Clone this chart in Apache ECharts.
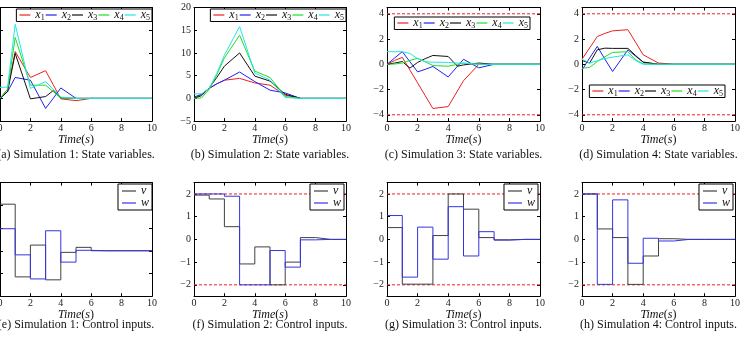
<!DOCTYPE html>
<html>
<head>
<meta charset="utf-8">
<script src="https://cdn.jsdelivr.net/npm/echarts@6/dist/echarts.min.js"></script>
<style>
  html, body { margin: 0; padding: 0; background: #fff; }
  #chart { width: 741px; height: 337px; }
</style>
</head>
<body>
<div id="chart"></div>
<script>
// ---- data ----
const xTicks = [0, 2, 4, 6, 8, 10];
const yTicksState = [-5, 0, 5, 10, 15, 20];
const yTicksBounded = [-4, -2, 0, 2, 4];
const yTicksInputE = [-2, -1, 0, 1, 2, 3];
const yTicksInput = [-2, -1, 0, 1, 2];
const stateBound = 4;
const inputBound = 2;

const stateNames = ['x1', 'x2', 'x3', 'x4', 'x5'];
const inputNames = ['v', 'w'];

const captions = [
  '(a) Simulation 1: State variables.',
  '(b) Simulation 2: State variables.',
  '(c) Simulation 3: State variables.',
  '(d) Simulation 4: State variables.',
  '(e) Simulation 1: Control inputs.',
  '(f) Simulation 2: Control inputs.',
  '(g) Simulation 3: Control inputs.',
  '(h) Simulation 4: Control inputs.'
];

// simulation 1 states
const timeA = [0, 0.5, 1, 2, 3, 3.5, 4, 5, 6, 10];
const a_x1 = [0, 2.0, 10.3, 4.6, 6.1, 3.0, -0.1, -0.5, 0, 0];
const a_x2 = [0, 1.5, 4.6, 4.0, -2.2, 0.0, 2.3, 0, 0, 0];
const a_x3 = [0, 1.5, 9.9, -0.1, 0.4, 1.7, 0.1, 0, 0, 0];
const a_x4 = [0, 2.0, 13.4, 2.9, 2.9, 1.5, 0.1, 0, 0, 0];
const a_x5 = [2.4, 2.5, 16.3, 2.2, 3.7, 2.0, 0.3, 0, 0, 0];

// simulation 2 states
const timeB = [0, 0.5, 1, 1.5, 2, 3, 4, 5, 6, 7, 10];
const b_x1 = [0, 0.9, 2.2, 3.2, 4.0, 4.4, 3.4, 2.9, 0.7, 0, 0];
const b_x2 = [0.3, 0.9, 2.2, 3.2, 4.0, 5.8, 3.7, 1.8, 1.2, 0, 0];
const b_x3 = [0, 0.6, 2.3, 4.6, 7.1, 10.0, 4.9, 3.8, 0.9, 0, 0];
const b_x4 = [0, 0.1, 2.0, 5.2, 8.9, 13.9, 6.0, 4.6, 0.4, 0, 0];
const b_x5 = [1.0, 1.0, 2.2, 5.5, 9.5, 15.8, 5.6, 4.0, 0.2, 0, 0];

// simulation 3 states
const timeC = [0, 0.5, 1, 1.5, 2, 2.5, 3, 4, 4.6, 5, 6, 7, 10];
const c_x1 = [0, 0.3, 0.55, -0.46, -1.47, -2.49, -3.5, -3.35, -2.12, -1.3, 0, 0, 0];
const c_x2 = [0, 0.5, 1.0, 0.2, -0.6, -0.4, -0.17, -1.0, -0.16, 0.4, -0.28, 0, 0];
const c_x3 = [0, 0.1, 0.22, -0.3, 0.15, 0.45, 0.7, 0.62, -0.15, -0.05, 0.1, 0, 0];
const c_x4 = [0, 0.02, 0.1, 0.3, 0.48, 0.2, -0.1, -0.15, 0.0, 0.1, 0, 0, 0];
const c_x5 = [1.0, 1.0, 1.0, 0.85, 0.45, 0.2, 0.17, 0.15, 0.1, 0.08, 0, 0, 0];

// simulation 4 states
const timeD = [0, 0.5, 1, 1.5, 2, 3, 3.5, 4, 5, 6, 10];
const d_x1 = [0.4, 1.3, 2.2, 2.45, 2.65, 2.74, 1.75, 0.75, 0.1, 0, 0];
const d_x2 = [-0.45, 0.5, 1.42, 0.4, -0.57, 1.15, 0.65, 0.17, 0, 0, 0];
const d_x3 = [0.3, 0.1, 1.15, 1.28, 1.26, 1.26, 0.7, 0.17, 0, 0, 0];
const d_x4 = [-0.3, -0.25, 0.22, 0.6, 0.94, 1.0, 0.35, 0.04, 0, 0, 0];
const d_x5 = [0.4, 0.1, 0.28, 0.45, 0.57, 0.75, 0.3, 0.0, 0, 0, 0];

// control inputs, held constant over each second
const stepTime = [0, 1, 2, 3, 4, 5, 6, 7, 8, 9, 10];
const e_v = [2.05, -1.15, 0.25, -1.28, -0.07, 0.15, 0, 0, 0, 0, 0];
const e_w = [0.97, -0.18, -1.24, 0.88, -0.5, 0.02, 0, 0, 0, 0, 0];
const f_v = [1.95, 1.78, 0.56, -1.08, -0.33, -2.0, -1.0, 0.08, 0, 0, 0];
const f_w = [2.0, 2.0, 1.9, -2.0, -2.0, -0.49, -1.22, -0.02, 0, 0, 0];
const g_v = [0.52, -1.97, -1.97, 0.17, 2.0, 1.33, 0.08, -0.02, 0, 0, 0];
const g_w = [1.05, -1.66, 0.54, -0.87, 1.44, -0.73, 0.34, -0.03, 0, 0, 0];
const h_v = [2.0, 0.46, 0.08, -1.98, -0.73, 0.03, 0, 0, 0, 0, 0];
const h_w = [2.0, -1.98, 1.74, -1.05, 0.05, -0.07, 0, 0, 0, 0, 0];

// ---- layout ----
const SERIF = '"Liberation Serif", "DejaVu Serif", serif';
const colors = { x1: '#ee2020', x2: '#2020ee', x3: '#111111', x4: '#22dd22', x5: '#22e6e6', v: '#404040', w: '#3434e0' };
const boundColor = '#ee2020';

const colLeft = [0, 194, 387, 582];
const colWidth = [152, 152, 153, 153];
const rowTop = [7.5, 182.6];
const plotH = 113.6;

const panels = [
  { row: 0, col: 0, yMin: -5, yMax: 20, ticks: yTicksState, time: timeA, names: stateNames, vals: [a_x1, a_x2, a_x3, a_x4, a_x5], bound: null, legend: { right: 589, top: 9 } },
  { row: 0, col: 1, yMin: -5, yMax: 20, ticks: yTicksState, time: timeB, names: stateNames, vals: [b_x1, b_x2, b_x3, b_x4, b_x5], bound: null, legend: { right: 395, top: 9 } },
  { row: 0, col: 2, yMin: -4.5, yMax: 4.5, ticks: yTicksBounded, time: timeC, names: stateNames, vals: [c_x1, c_x2, c_x3, c_x4, c_x5], bound: stateBound, legend: { right: 211, top: 17 } },
  { row: 0, col: 3, yMin: -4.5, yMax: 4.5, ticks: yTicksBounded, time: timeD, names: stateNames, vals: [d_x1, d_x2, d_x3, d_x4, d_x5], bound: stateBound, legend: { right: 16, top: 85 } },
  { row: 1, col: 0, yMin: -2, yMax: 3, ticks: yTicksInputE, time: stepTime, names: inputNames, vals: [e_v, e_w], bound: null, step: true, legend: { right: 589, top: 184 } },
  { row: 1, col: 1, yMin: -2.5, yMax: 2.5, ticks: yTicksInput, time: stepTime, names: inputNames, vals: [f_v, f_w], bound: inputBound, step: true, legend: { right: 397, top: 184 } },
  { row: 1, col: 2, yMin: -2.5, yMax: 2.5, ticks: yTicksInput, time: stepTime, names: inputNames, vals: [g_v, g_w], bound: inputBound, step: true, legend: { right: 203, top: 184 } },
  { row: 1, col: 3, yMin: -2.5, yMax: 2.5, ticks: yTicksInput, time: stepTime, names: inputNames, vals: [h_v, h_w], bound: inputBound, step: true, legend: { right: 8, top: 184 } }
];

const axisLine = { show: true, onZero: false, lineStyle: { color: '#000', width: 1 } };
const labelStyle = { fontFamily: SERIF, fontSize: 10, color: '#222' };
const minus = v => String(v).replace('-', '\u2212');

const grid = [], xAxis = [], yAxis = [], series = [], legend = [], graphic = [];

panels.forEach((p, i) => {
  const left = colLeft[p.col], width = colWidth[p.col], top = rowTop[p.row];
  grid.push({ left, top, width, height: plotH, containLabel: false, outerBoundsMode: 'none' });

  const xBase = { gridIndex: i, type: 'value', min: 0, max: 10, axisLine, splitLine: { show: false },
    axisTick: { inside: true, length: 3, customValues: xTicks, lineStyle: { color: '#000' } } };
  xAxis.push(Object.assign({}, xBase, {
    position: 'bottom',
    axisLabel: Object.assign({ margin: 2, customValues: xTicks }, labelStyle),
    name: '{i|Time}{n|(}{i|s}{n|)}', nameLocation: 'middle', nameGap: 11,
    nameTextStyle: { rich: {
      i: { fontFamily: SERIF, fontStyle: 'italic', fontSize: 12, color: '#111' },
      n: { fontFamily: SERIF, fontSize: 12, color: '#111' } } }
  }));
  xAxis.push(Object.assign({}, xBase, { position: 'top', axisLabel: { show: false } }));

  const yBase = { gridIndex: i, type: 'value', min: p.yMin, max: p.yMax, axisLine, splitLine: { show: false },
    axisTick: { inside: true, length: 3, customValues: p.ticks, lineStyle: { color: '#000' } } };
  yAxis.push(Object.assign({}, yBase, { position: 'left',
    axisLabel: Object.assign({ margin: 3, customValues: p.ticks, formatter: minus }, labelStyle) }));
  yAxis.push(Object.assign({}, yBase, { position: 'right', axisLabel: { show: false } }));

  // dashed constraint lines at +bound and -bound, across the whole time range
  if (p.bound) {
    [p.bound, -p.bound].forEach(b => {
      series.push({
        type: 'line', name: 'bound', xAxisIndex: 2 * i, yAxisIndex: 2 * i,
        data: [[0, b], [10, b]], symbol: 'none', color: boundColor,
        lineStyle: { width: 1, color: boundColor, type: [3, 2] },
        silent: true, animation: false, z: 1
      });
    });
  }

  p.names.forEach((name, k) => {
    const s = {
      type: 'line', name, xAxisIndex: 2 * i, yAxisIndex: 2 * i,
      data: p.time.map((t, j) => [t, p.vals[k][j]]),
      symbol: 'none', color: colors[name],
      lineStyle: { width: 1, color: colors[name] },
      silent: true, animation: false, z: 2
    };
    if (p.step) s.step = 'end';
    series.push(s);
  });

  legend.push(Object.assign({
    data: p.names, orient: p.step ? 'vertical' : 'horizontal',
    icon: 'rect',
    itemWidth: p.step ? 14 : 11, itemHeight: 1.2, itemGap: p.step ? 0 : 1,
    padding: p.step ? [1, 3, 1, 4] : [0, 2, 0, 3],
    backgroundColor: '#fff', borderColor: '#000', borderWidth: 1, borderRadius: 0,
    selectedMode: false,
    formatter: n => n.length > 1 ? `{x|${n[0]}}{s|${n.slice(1)}}` : `{x|${n}}`,
    textStyle: { rich: {
      x: { fontFamily: SERIF, fontStyle: 'italic', fontSize: 12, lineHeight: p.step ? 10 : 12, color: '#111' },
      s: { fontFamily: SERIF, fontSize: 8, color: '#111', padding: [5, 0, 0, 0] } } }
  }, p.legend));

  graphic.push({ type: 'text', silent: true, x: left + width / 2, y: p.row === 0 ? 155 : 325,
    style: { text: captions[i], fontFamily: SERIF, fontSize: 12, fill: '#111', align: 'center', verticalAlign: 'middle' } });
});

const chart = echarts.init(document.getElementById('chart'));
chart.setOption({ animation: false, backgroundColor: '#fff', grid, xAxis, yAxis, series, legend, graphic });
</script>
</body>
</html>
